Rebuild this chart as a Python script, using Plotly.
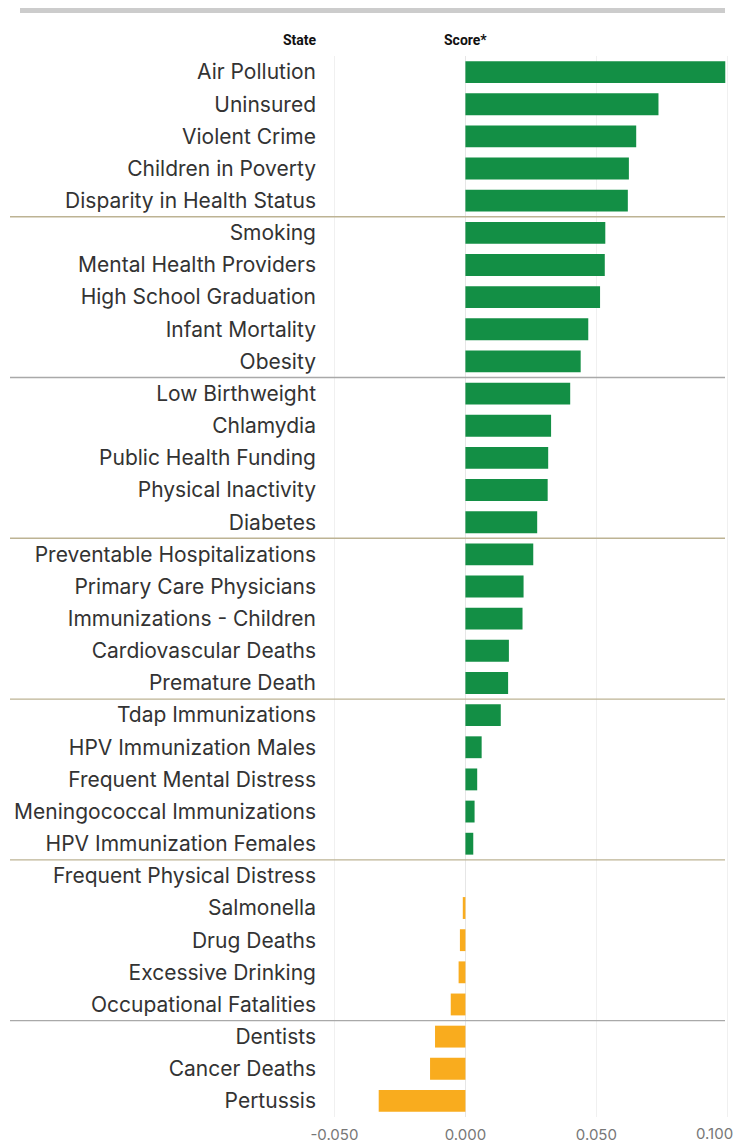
import plotly.graph_objects as go

categories = [
    "Air Pollution", "Uninsured", "Violent Crime", "Children in Poverty", "Disparity in Health Status",
    "Smoking", "Mental Health Providers", "High School Graduation", "Infant Mortality", "Obesity",
    "Low Birthweight", "Chlamydia", "Public Health Funding", "Physical Inactivity", "Diabetes",
    "Preventable Hospitalizations", "Primary Care Physicians", "Immunizations - Children",
    "Cardiovascular Deaths", "Premature Death",
    "Tdap Immunizations", "HPV Immunization Males", "Frequent Mental Distress",
    "Meningococcal Immunizations", "HPV Immunization Females",
    "Frequent Physical Distress", "Salmonella", "Drug Deaths", "Excessive Drinking",
    "Occupational Fatalities",
    "Dentists", "Cancer Deaths", "Pertussis",
]
scores = [
    0.0992, 0.0737, 0.0652, 0.0624, 0.0620,
    0.0534, 0.0532, 0.0514, 0.0469, 0.0440,
    0.0400, 0.0327, 0.0316, 0.0314, 0.0274,
    0.0259, 0.0222, 0.0218, 0.0166, 0.0163,
    0.0135, 0.0062, 0.0045, 0.0035, 0.0030,
    0.0000, -0.0010, -0.0021, -0.0026, -0.0056,
    -0.0116, -0.0135, -0.0331,
]
tick_vals = [-0.05, 0.0, 0.05, 0.1]
tick_text = ["-0.050", "0.000", "0.050", "0.100"]
group_breaks = [4.5, 9.5, 14.5, 19.5, 24.5, 29.5]
break_colors = ["#bdb394", "#a9a9a9", "#bdb394", "#bdb394", "#bdb394", "#a9a9a9"]

GREEN = "#138f45"
ORANGE = "#f9ac1e"
colors = [GREEN if v > 0 else ORANGE for v in scores]

OFF = 8  # page body margin
W, H = 741 - OFF, 1145 - OFF
ML, MR, MT, MB = 325 - OFF, 0, 56 - OFF, 28
plot_h = H - MT - MB
plot_w = W - ML - MR

def px_x(p):
    return (p - OFF - ML) / plot_w

def px_y(p):
    return (H - MB - (p - OFF)) / plot_h

fig = go.Figure(go.Bar(
    x=scores, y=categories, orientation="h",
    marker=dict(color=colors, line=dict(width=0)),
    width=0.68, hoverinfo="x+y",
))

shapes = []
for b, c in zip(group_breaks, break_colors):
    shapes.append(dict(type="line", xref="paper", yref="y",
                       x0=px_x(10), x1=px_x(725), y0=b, y1=b,
                       line=dict(color=c, width=1.3), layer="above"))
shapes.append(dict(type="rect", xref="paper", yref="paper",
                   x0=px_x(20), x1=px_x(725), y0=px_y(13), y1=px_y(5),
                   fillcolor="#cccccc", line=dict(width=0)))

annotations = [
    dict(text="<b>State</b>", xref="paper", yref="paper", x=px_x(319), y=px_y(40),
         xanchor="right", yanchor="middle", showarrow=False,
         font=dict(family="Roboto", size=14, color="#111")),
    dict(text="<b>Score*</b>", xref="paper", yref="paper", x=px_x(442), y=px_y(40),
         xanchor="left", yanchor="middle", showarrow=False,
         font=dict(family="Roboto", size=14, color="#111")),
    # last tick label sits flush with the right edge (would otherwise be hidden)
    dict(text=tick_text[-1], xref="paper", yref="paper", x=px_x(734), y=px_y(1133),
         xanchor="right", yanchor="middle", showarrow=False, borderpad=0,
         font=dict(family="Inter", size=15, color="#777")),
]

fig.update_layout(
    width=W, height=H,
    margin=dict(l=ML, r=MR, t=MT, b=MB, pad=0),
    paper_bgcolor="white", plot_bgcolor="white",
    showlegend=False,
    shapes=shapes,
    annotations=annotations,
    font=dict(family="Inter", color="#333"),
)
fig.update_xaxes(
    range=[-0.0536, 0.1052],
    tickvals=tick_vals, ticktext=tick_text[:-1] + [""],
    showgrid=True, gridcolor="#f0f0f0", gridwidth=1,
    zeroline=True, zerolinecolor="#e6e6e6", zerolinewidth=1,
    showline=False, ticks="",
    tickfont=dict(family="Inter", size=15, color="#777"),
    ticklabelstandoff=7,
    fixedrange=True,
)
fig.update_yaxes(
    autorange="reversed",
    showgrid=False, zeroline=False, showline=False, ticks="",
    tickfont=dict(family="Inter", size=21, color="#333"),
    ticklabelstandoff=8,
    fixedrange=True,
)

fig.write_html("out.html")
